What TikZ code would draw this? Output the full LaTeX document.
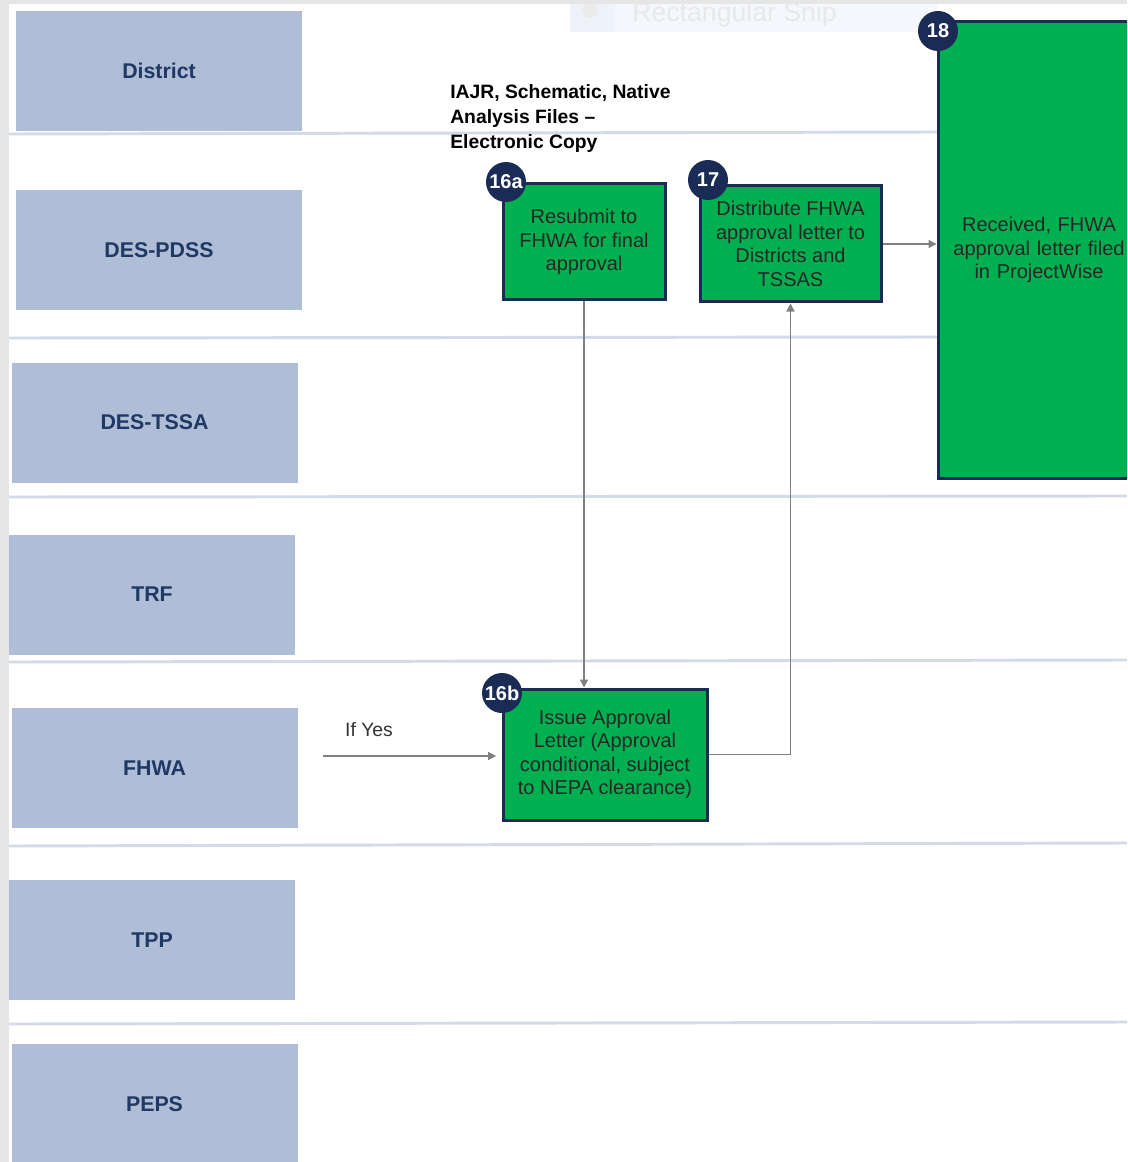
\documentclass[tikz,border=0pt]{standalone}
\usepackage{fontspec}
\setmainfont{Liberation Sans}
\usetikzlibrary{arrows.meta}
\definecolor{lanefill}{HTML}{B0BDD6}
\definecolor{lanetext}{HTML}{1F3864}
\definecolor{sepline}{HTML}{D3DAE8}
\definecolor{stepgreen}{HTML}{00B050}
\definecolor{navy}{HTML}{1A2C56}
\definecolor{arrgrey}{HTML}{808080}
\definecolor{framegrey}{HTML}{E6E6E6}
\definecolor{snipfill}{HTML}{F4F8FD}
\definecolor{snipleft}{HTML}{EEF3FB}
\tikzset{
  lane/.style={fill=lanefill, draw=none, text=lanetext, font=\fontsize{16}{19}\selectfont\bfseries, minimum width=214.5pt, minimum height=90pt, inner sep=0pt},
  stepbox/.style={fill=stepgreen, draw=navy, line width=2.25pt, align=center, font=\fontsize{15}{17.6}\selectfont, text=black!85, inner sep=0pt},
  badge/.style={circle, fill=navy, text=white, font=\fontsize{15}{17}\selectfont\bfseries, minimum size=30pt, inner sep=0pt},
  arr/.style={draw=arrgrey, line width=1pt, -{Triangle[length=6pt,width=6pt]}},
  sep/.style={draw=sepline, line width=2.2pt}
}
\begin{document}
\begin{tikzpicture}[x=0.75pt,y=-0.75pt]
\useasboundingbox (0,0) rectangle (1127,1162);
\clip (0,0) rectangle (1127,1162);
\fill[white] (0,0) rectangle (1127,1162);
% faint snip artifact
\fill[snipfill] (570,4) rectangle (937,32);
\fill[snipleft] (570,4) rectangle (615,32);
\fill[black!8] (590,10) circle (8);
\node[anchor=base west, text=black!9, font=\fontsize{20}{24}\selectfont, inner sep=0pt] (snip) at (632,22) {Rectangular Snip};
% grey frame
\fill[framegrey] (0,0) rectangle (1127,4);
\fill[framegrey] (0,0) rectangle (9,1162);
% separator lines
\draw[sep] (9,134) -- (937,132);
\draw[sep] (9,338) -- (937,337);
\draw[sep] (9,497) -- (1127,496);
\draw[sep] (9,662) -- (1127,660);
\draw[sep] (9,846) -- (1127,843);
\draw[sep] (9,1024) -- (1127,1022);
% lanes
\node[lane] (lDistrict) at (159,71) {District};
\node[lane] (lPDSS) at (159,250) {DES-PDSS};
\node[lane] (lTSSA) at (154.5,422.5) {DES-TSSA};
\node[lane] (lTRF) at (152,594.5) {TRF};
\node[lane] (lFHWA) at (154.5,768) {FHWA};
\node[lane] (lTPP) at (152,940) {TPP};
\node[lane] (lPEPS) at (154.5,1104) {PEPS};
% note
\node[anchor=north west, align=left, font=\fontsize{14.5}{19}\selectfont\bfseries, inner sep=0pt] (note) at (450,84) {IAJR, Schematic, Native\\Analysis Files --\\Electronic Copy};
% step boxes
\node[stepbox, minimum width=121.5pt, minimum height=87pt] (b16a) at (584,242) {Resubmit to\\FHWA for final\\approval};
\node[stepbox, minimum width=135.75pt, minimum height=87pt] (b17) at (790.5,244) {Distribute FHWA\\approval letter to\\Districts and\\TSSAS};
\node[stepbox, minimum width=153pt, minimum height=98.25pt] (b16b) at (605,754.5) {Issue Approval\\Letter (Approval\\conditional, subject\\to NEPA clearance)};
\node[stepbox, minimum width=151.5pt, minimum height=342pt, text width=140pt] (b18) at (1039,250) {Received, FHWA\\approval letter filed\\in ProjectWise};
% badges
\node[badge] (n16a) at (506,182) {16a};
\node[badge] (n17) at (708,180) {17};
\node[badge] (n16b) at (502,693) {16b};
\node[badge] (n18) at (938,31) {18};
% connectors
\coordinate (yesstart) at (323,756);
\draw[arr] (b16a.south) -- (b16a.south |- b16b.north);
\draw[arr] (b16b.east) -| (b17.south);
\draw[arr] (b17.east) -- (b17.east -| b18.west);
\draw[arr, shorten >=4pt] (yesstart) -- (yesstart -| b16b.west);
\node[font=\fontsize{14.5}{17}\selectfont, text=black!80, inner sep=0pt] (ifyes) at (369,730) {If Yes};
\end{tikzpicture}
\end{document}
